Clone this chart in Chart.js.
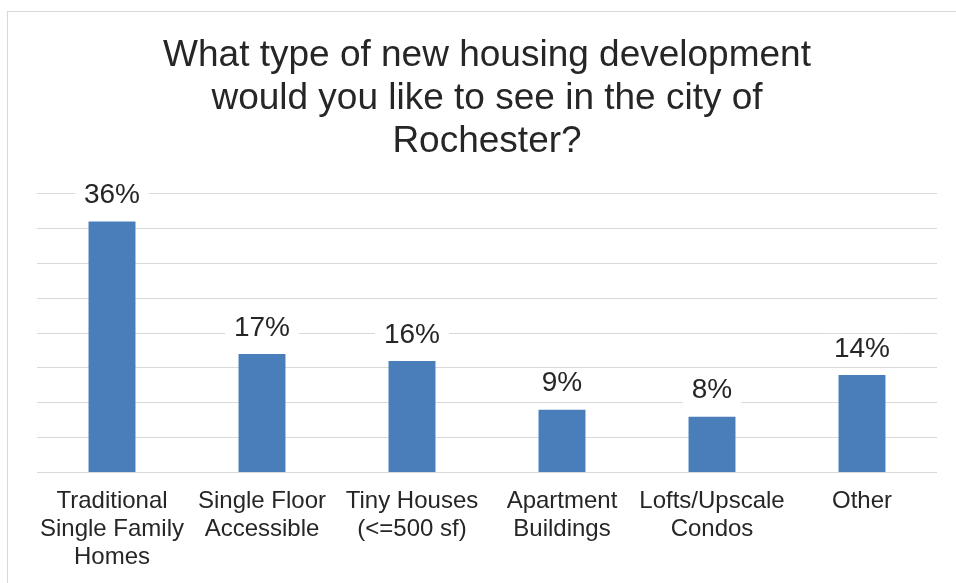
<!DOCTYPE html>
<html>
<head>
<meta charset="utf-8">
<script src="https://cdn.jsdelivr.net/npm/chart.js@4/dist/chart.umd.min.js"></script>
<style>
  html, body { margin: 0; padding: 0; background: #ffffff; overflow: hidden; }
  #frame {
    position: absolute; left: 7px; top: 11px;
    width: 958px; height: 600px;
    border: 1px solid #d9d9d9; background: #ffffff;
  }
  #chart { display: block; }
</style>
</head>
<body>
<div id="frame"><canvas id="chart" width="958" height="586"></canvas></div>
<script>
// Survey answers and their share of respondents (percent)
const categories = [
  ["Traditional", "Single Family", "Homes"],
  ["Single Floor", "Accessible"],
  ["Tiny Houses", "(<=500 sf)"],
  ["Apartment", "Buildings"],
  ["Lofts/Upscale", "Condos"],
  "Other"
];
const shares = [36, 17, 16, 9, 8, 14];
const titleLines = [
  "What type of new housing development",
  "would you like to see in the city of",
  "Rochester?"
];

const TEXT = "#262626";
const GRID = "#d9d9d9";
const FONT = "'Liberation Sans', Arial, sans-serif";

// Percent labels above each bar, on a white box that breaks the gridlines
const valueLabels = {
  id: "valueLabels",
  afterDatasetsDraw(chart) {
    const ctx = chart.ctx;
    const meta = chart.getDatasetMeta(0);
    ctx.save();
    ctx.font = "28px " + FONT;
    ctx.textAlign = "center";
    ctx.textBaseline = "middle";
    meta.data.forEach((bar, i) => {
      const text = shares[i] + "%";
      const w = ctx.measureText(text).width;
      const cy = bar.y - 26;
      ctx.fillStyle = "#ffffff";
      ctx.fillRect(bar.x - w / 2 - 9, cy - 15, w + 18, 30);
      ctx.fillStyle = TEXT;
      ctx.fillText(text, bar.x, cy);
    });
    ctx.restore();
  }
};

new Chart(document.getElementById("chart"), {
  type: "bar",
  data: {
    labels: categories,
    datasets: [{
      data: shares,
      backgroundColor: "#4a7ebb",
      borderWidth: 0,
      categoryPercentage: 1,
      barPercentage: 0.313
    }]
  },
  options: {
    responsive: false,
    animation: false,
    layout: { padding: { left: 29, right: 29, top: 0, bottom: 12 } },
    plugins: {
      legend: { display: false },
      tooltip: { enabled: false },
      title: {
        display: true,
        text: titleLines,
        color: TEXT,
        font: { family: FONT, size: 37, weight: "normal", lineHeight: 1.15 },
        padding: { top: 23, bottom: 31 }
      }
    },
    scales: {
      x: {
        grid: { display: false, drawTicks: false },
        border: { display: false },
        ticks: {
          color: TEXT,
          font: { family: FONT, size: 24, lineHeight: 1.16 },
          padding: 15,
          maxRotation: 0,
          autoSkip: false
        }
      },
      y: {
        min: 0,
        max: 40,
        ticks: { display: false, stepSize: 5 },
        grid: { color: GRID, lineWidth: 1, drawTicks: false },
        border: { display: false }
      }
    }
  },
  plugins: [valueLabels]
});
</script>
</body>
</html>
